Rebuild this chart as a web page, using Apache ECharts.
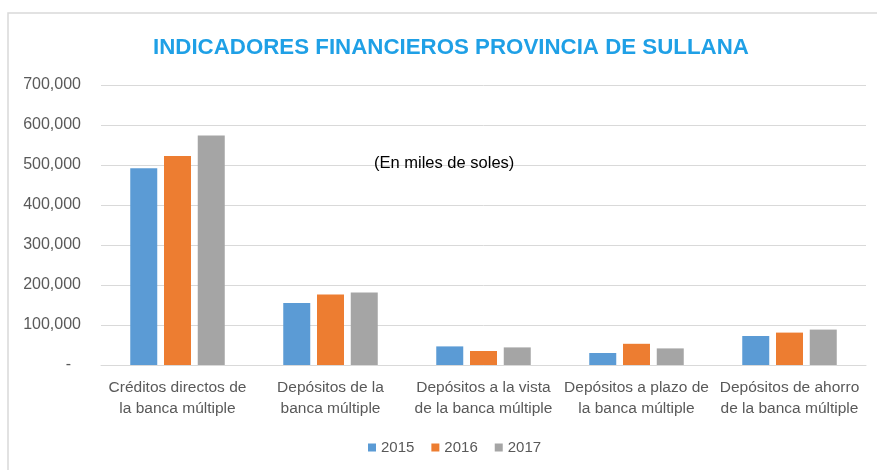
<!DOCTYPE html>
<html>
<head>
<meta charset="utf-8">
<script src="https://cdn.jsdelivr.net/npm/echarts@6/dist/echarts.min.js"></script>
<style>
  html, body { margin: 0; padding: 0; background: #fff; }
  #chart { width: 877px; height: 470px; }
</style>
</head>
<body>
<div id="chart"></div>
<script>
const categories = [
  'Créditos directos de\nla banca múltiple',
  'Depósitos de la\nbanca múltiple',
  'Depósitos a la vista\nde la banca múltiple',
  'Depósitos a plazo de\nla banca múltiple',
  'Depósitos de ahorro\nde la banca múltiple'
]
const years = ['2015', '2016', '2017']
const values2015 = [492000, 155000, 46500, 30000, 72500]
const values2016 = [522500, 176500, 35000, 53000, 81000]
const values2017 = [574000, 181000, 44000, 41500, 88500]
const colors = ['#5B9BD5', '#ED7D31', '#A5A5A5']

const chart = echarts.init(document.getElementById('chart'))
const font = 'Liberation Sans, Arial, sans-serif'

const option = {
  animation: false,
  // chart frame, only its top and left edges fall inside the picture
  graphic: [{
    type: 'rect',
    shape: { x: 8, y: 13, width: 900, height: 500 },
    style: { fill: 'none', stroke: '#d9d9d9', lineWidth: 1.5 },
    z: -1
  }],
  title: [
    {
      text: 'INDICADORES FINANCIEROS PROVINCIA DE SULLANA',
      left: 148,
      top: 32,
      textStyle: { color: '#1FA0E6', fontSize: 22.3, fontWeight: 'bold', fontFamily: font }
    },
    {
      text: '(En miles de soles)',
      left: 369,
      top: 150,
      textStyle: { color: '#000', fontSize: 16.5, fontWeight: 'normal', fontFamily: font }
    }
  ],
  legend: {
    bottom: 10,
    left: 363,
    itemWidth: 8,
    itemHeight: 8,
    itemGap: 17,
    icon: 'rect',
    textStyle: { color: '#595959', fontSize: 15, fontFamily: font },
    data: years
  },
  grid: { left: 101, right: 11, top: 85, bottom: 105 },
  xAxis: {
    type: 'category',
    data: categories,
    axisTick: { show: false },
    axisLine: { lineStyle: { color: '#d9d9d9' } },
    axisLabel: { color: '#595959', fontSize: 15.5, fontFamily: font, margin: 12, lineHeight: 21, interval: 0 }
  },
  yAxis: {
    type: 'value',
    min: 0,
    max: 700000,
    interval: 100000,
    axisLine: { show: false },
    axisTick: { show: false },
    splitLine: { lineStyle: { color: '#d9d9d9', width: 1 } },
    axisLabel: {
      color: '#595959', fontSize: 16, fontFamily: font, margin: 20,
      formatter: v => v === 0 ? '{z|-}' : v.toLocaleString('en-US'),
      rich: { z: { color: '#595959', fontSize: 16, fontFamily: font, padding: [0, 10, 0, 0] } }
    }
  },
  series: years.map((y, i) => ({
    name: y,
    type: 'bar',
    data: [values2015, values2016, values2017][i],
    barWidth: 27,
    barGap: '25%',
    itemStyle: { color: colors[i] }
  }))
}

chart.setOption(option)
</script>
</body>
</html>
